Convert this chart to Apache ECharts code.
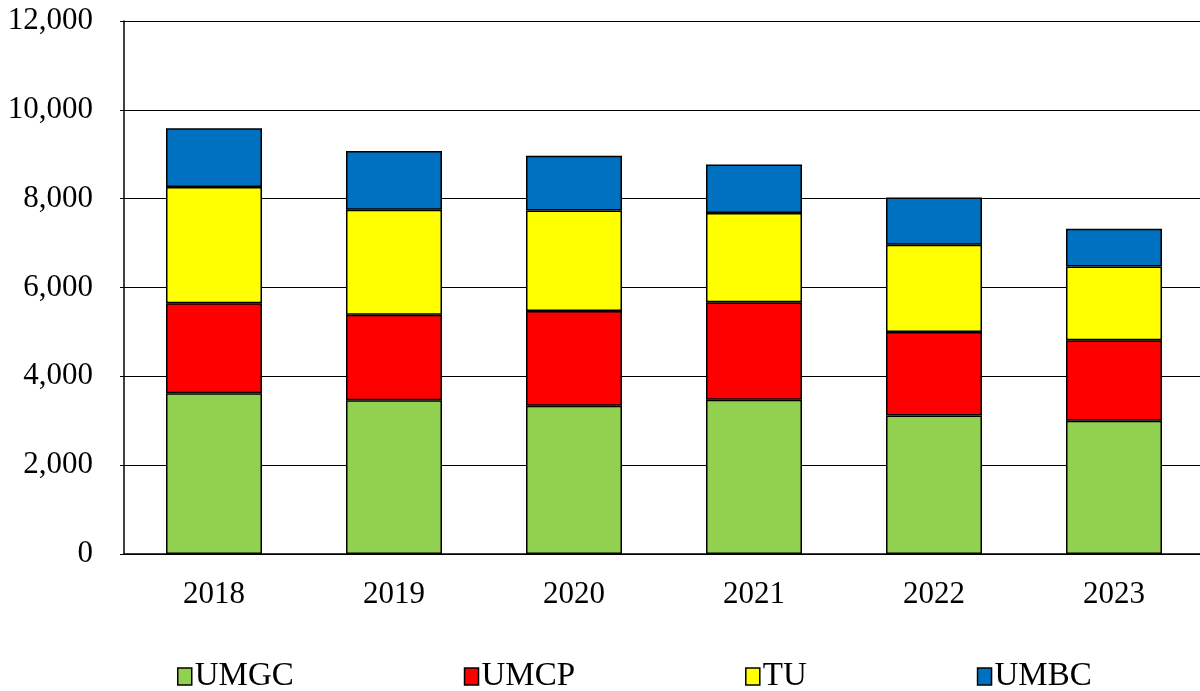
<!DOCTYPE html>
<html>
<head>
<meta charset="utf-8">
<script src="https://cdn.jsdelivr.net/npm/echarts@6/dist/echarts.min.js"></script>
<style>
  html, body { margin: 0; padding: 0; background: #fff; }
  #chart { width: 1200px; height: 691px; }
</style>
</head>
<body>
<div id="chart"></div>
<script>
var years = ['2018', '2019', '2020', '2021', '2022', '2023'];
var umgc = [3617, 3459, 3337, 3472, 3121, 2999];
var umcp = [2029, 1930, 2135, 2196, 1878, 1813];
var tu   = [2616, 2361, 2262, 2007, 1961, 1659];
var umbc = [1321, 1323, 1233, 1096, 1067, 850];

var seriesNames = ['UMGC', 'UMCP', 'TU', 'UMBC'];
var seriesColors = ['#92D050', '#FF0000', '#FFFF00', '#0070C0'];
var seriesData = [umgc, umcp, tu, umbc];

var font = '"Liberation Serif", "Times New Roman", serif';

var chart = echarts.init(document.getElementById('chart'));

var series = [];
for (var i = 0; i < seriesNames.length; i++) {
    series.push({
        name: seriesNames[i],
        type: 'bar',
        stack: 'total',
        barWidth: 96,
        data: seriesData[i],
        itemStyle: {
            color: seriesColors[i],
            borderColor: '#000',
            borderWidth: 1.5
        }
    });
}

var option = {
    animation: false,
    backgroundColor: '#fff',
    grid: { left: 124, right: -4, top: 21, bottom: 137, outerBoundsMode: 'none', containLabel: false },
    legend: {
        data: seriesNames,
        icon: 'rect',
        left: 172,
        top: 655,
        itemGap: 170,
        itemWidth: 14,
        itemHeight: 17,
        itemStyle: { borderColor: '#000', borderWidth: 1.5 },
        textStyle: { fontFamily: font, fontSize: 33, color: '#000', padding: [0, 0, 0, -2] }
    },
    xAxis: {
        type: 'category',
        data: years,
        axisLine: { lineStyle: { color: '#000', width: 1.5 } },
        axisTick: { show: false },
        axisLabel: { fontFamily: font, fontSize: 31, color: '#000', margin: 25 }
    },
    yAxis: {
        type: 'value',
        min: 0,
        max: 12000,
        interval: 2000,
        axisLine: { show: true, lineStyle: { color: '#000', width: 1.5 } },
        axisTick: { show: true, length: 4, lineStyle: { color: '#000' } },
        splitLine: { lineStyle: { color: '#000', width: 1.2 } },
        axisLabel: {
            fontFamily: font, fontSize: 31, color: '#000', margin: 31,
            formatter: function (v) { return v.toLocaleString('en-US'); }
        }
    },
    series: series
};

chart.setOption(option);

window.onresize = function () {
    chart.resize();
};
</script>
</body>
</html>
